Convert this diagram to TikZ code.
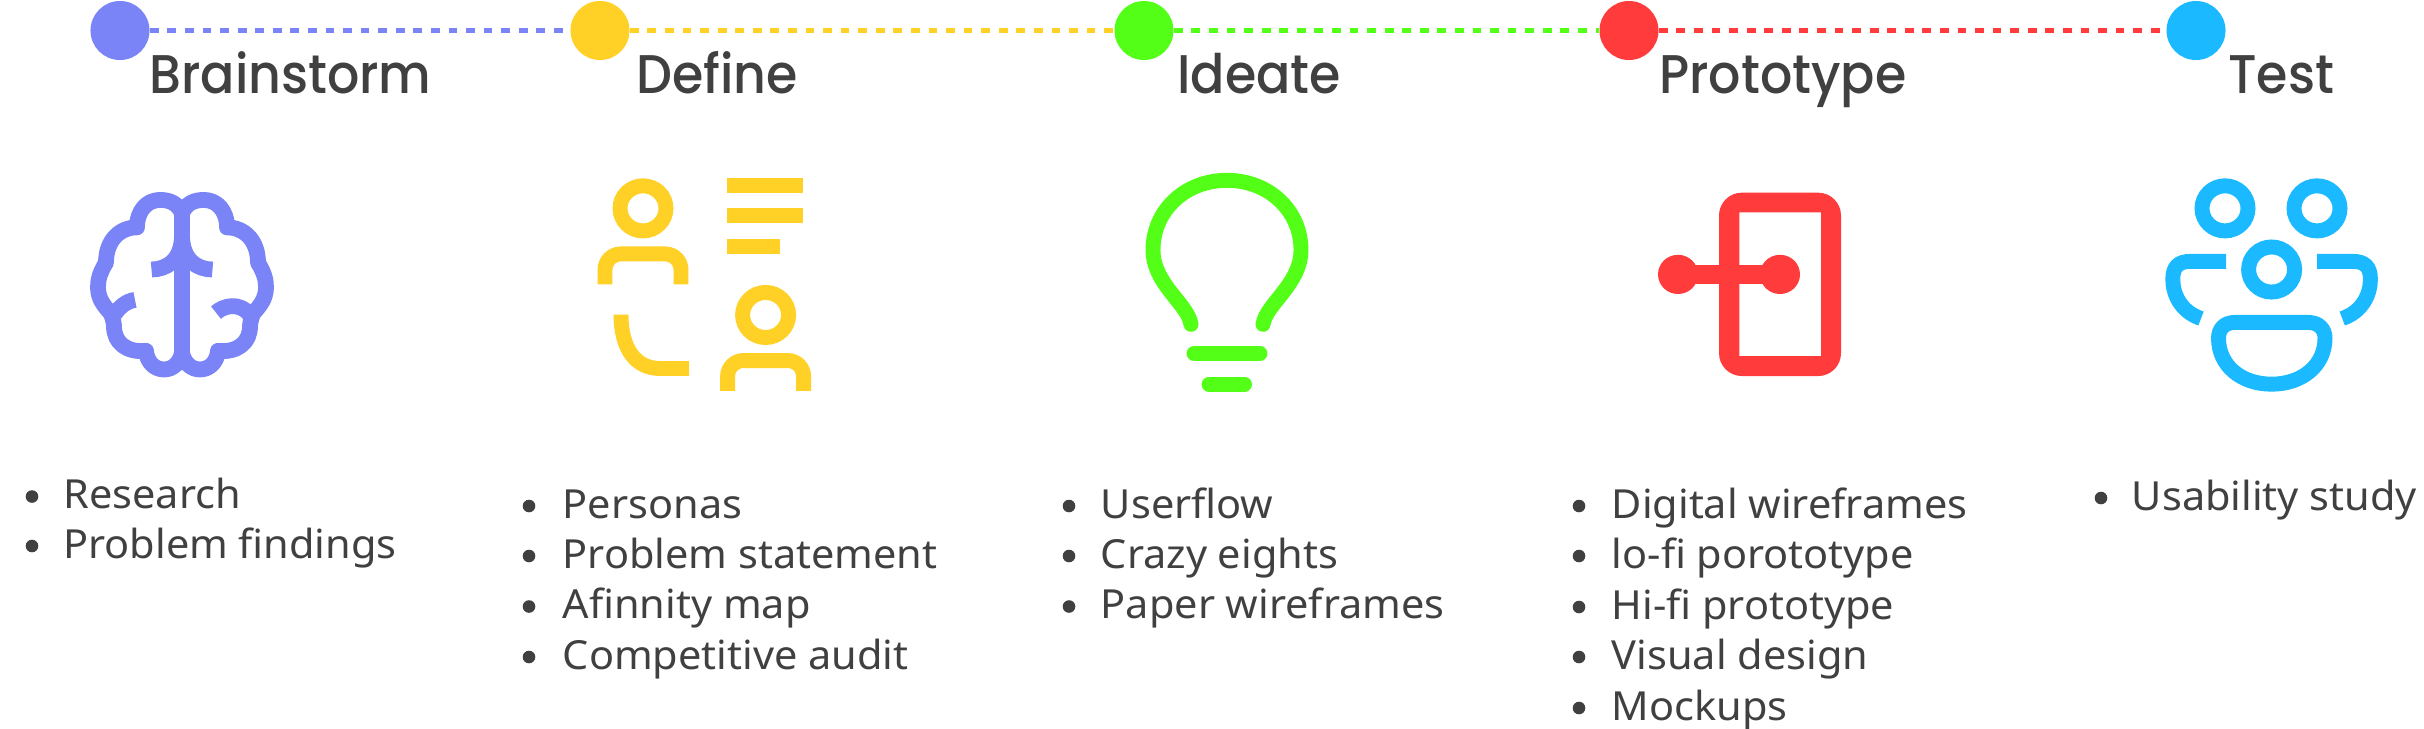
\documentclass[tikz,border=0pt]{standalone}
\usepackage{fontspec}
\newfontfamily\titlefam[FakeStretch=0.93]{Poppins Medium}
\newfontfamily\itemfam[FakeStretch=1.035]{Noto Sans}
\definecolor{brainblue}{HTML}{7A84F6}
\definecolor{defineyellow}{HTML}{FFD026}
\definecolor{ideagreen}{HTML}{54FF17}
\definecolor{protored}{HTML}{FF3B3C}
\definecolor{testcyan}{HTML}{1BB9FF}
\definecolor{inkgray}{HTML}{404040}
\tikzset{
  stepdot/.style={circle,inner sep=0pt,minimum size=33.6pt},
  linkline/.style={line width=2.85pt,dash pattern=on 5pt off 5pt},
  steptitle/.style={anchor=base west,inner sep=0pt,text=inkgray,font=\titlefam\fontsize{31pt}{36pt}\selectfont},
  itemtext/.style={anchor=base west,inner sep=0pt,text=inkgray,font=\itemfam\fontsize{22.8pt}{27pt}\selectfont},
  iconline/.style={line width=8.5pt},
}
\begin{document}
\begin{tikzpicture}[x=0.02cm,y=-0.02cm]
\useasboundingbox (0,0) rectangle (2424,728);

% Step dots
\node[stepdot,fill=brainblue] (brainstorm) at (120,30.5) {};
\node[stepdot,fill=defineyellow] (define) at (600,30.5) {};
\node[stepdot,fill=ideagreen] (ideate) at (1144,30.5) {};
\node[stepdot,fill=protored] (prototype) at (1629,30.5) {};
\node[stepdot,fill=testcyan] (test) at (2196,30.5) {};

% Dotted links
\foreach \a/\b/\c in {brainstorm/define/brainblue,define/ideate/defineyellow,ideate/prototype/ideagreen,prototype/test/protored} {
  \draw[linkline,\c] (\a) -- (\b);
}

% Titles
\node[steptitle] (brainstormtitle) at (149,93.5) {Brainstorm};
\node[steptitle] (definetitle) at (636,93.5) {Define};
\node[steptitle] (ideatetitle) at (1177,93.5) {Ideate};
\node[steptitle] (prototypetitle) at (1659,93.5) {Prototype};
\node[steptitle] (testtitle) at (2228,93.5) {Test};

\begin{scope}[yscale=0.98]
% Brain
\begin{scope}[iconline,line width=9pt,brainblue,line join=round]
\foreach \s in {1,-1} {
  \begin{scope}[shift={(182,0)},xscale=\s]
  \draw (0,218) .. controls (-4,207) and (-13,204) .. (-22,204) .. controls (-35,204) and (-45,215) .. (-45,232)
    .. controls (-62,232) and (-76,245) .. (-76,268) .. controls (-82,278) and (-84,285) .. (-84,293)
    .. controls (-84,305) and (-78,312) .. (-71,320) .. controls (-69,326) and (-68,330) .. (-68,333)
    .. controls (-68,350) and (-55,360) .. (-36,358) .. controls (-35,370) and (-27,377) .. (-18,377)
    .. controls (-9,377) and (-2,370) .. (0,360);
  \draw (-30.5,275) .. controls (-15,275) and (0,265) .. (0,240);
  \end{scope}
}
\draw (182,215) -- (182,372);
\draw (135,306) .. controls (127,307) and (119,313) .. (113,323);
\draw (216,319) .. controls (222,313) and (240,306) .. (251,323);
\end{scope}

% Define icon
\begin{scope}[iconline,defineyellow]
\foreach \hx/\hy in {643/212.6,765.6/321.4} {
  \draw (\hx,\hy) circle (23);
  \draw[rounded corners=9pt] (\hx-38,\hy+77.5) -- (\hx-38,\hy+46.5) -- (\hx+38,\hy+46.5) -- (\hx+38,\hy+77.5);
}
\draw (621,321) .. controls (621,355) and (635,376) .. (660,376) -- (689,376);
\foreach \ty/\tx in {189/803,220.3/803,251.5/780} {
  \draw (727,\ty) -- (\tx,\ty);
}
\end{scope}

% Bulb
\begin{scope}[iconline,ideagreen,line cap=round]
\draw (1191,331) .. controls (1188,310) and (1153,290) .. (1153,255) .. controls (1153,215) and (1185,184) .. (1227,184)
  .. controls (1269,184) and (1301,215) .. (1301,255) .. controls (1301,290) and (1266,310) .. (1263,331);
\draw (1194,360.7) -- (1260,360.7);
\draw (1209,392) -- (1244.5,392);
\end{scope}

% Prototype icon
\fill[protored,even odd rule,rounded corners=13pt] (1719,196.6) rectangle (1841,383.7) [sharp corners] (1739.3,216.7) rectangle (1821,363.3);
\fill[protored] (1678,280) circle (20);
\fill[protored] (1780,280) circle (20);
\fill[protored] (1678,270) rectangle (1780,290);

% Test icon
\begin{scope}[iconline,testcyan]
\draw (2225,212.6) circle (23);
\draw (2317,212.6) circle (23);
\draw (2271.6,275) circle (23);
\foreach \s in {1,-1} {
  \begin{scope}[shift={(2271.6,0)},xscale=\s]
  \draw (-45.6,266.7) -- (-81,266.7) .. controls (-93,266.7) and (-98.8,272) .. (-98.8,285) .. controls (-98.8,300) and (-91,318) .. (-70.6,325);
  \end{scope}
}
\draw (2235,329) -- (2308,329) .. controls (2319,329) and (2325,336) .. (2325,345) .. controls (2325,373) and (2302,392) .. (2271.6,392)
  .. controls (2241,392) and (2218.5,373) .. (2218.5,345) .. controls (2218.5,336) and (2224,329) .. (2235,329) -- cycle;
\end{scope}
\end{scope}

% Item lists
\foreach \y/\t [count=\n] in {508.5/Research,558/Problem findings} {
  \node[itemtext] (brainstormitem\n) at (63,\y) {\t};
  \fill[inkgray] (32,\y-12) circle (6.3);
}
\foreach \y/\t [count=\n] in {518/Personas,568/Problem statement,618.5/Afinnity map,669/Competitive audit} {
  \node[itemtext] (defineitem\n) at (562.5,\y) {\t};
  \fill[inkgray] (529,\y-12) circle (6.3);
}
\foreach \y/\t [count=\n] in {518/Userflow,568/Crazy eights,618.5/Paper wireframes} {
  \node[itemtext] (ideateitem\n) at (1100.5,\y) {\t};
  \fill[inkgray] (1069,\y-12) circle (6.3);
}
\foreach \y/\t [count=\n] in {518/Digital wireframes,568/lo-fi porototype,619/Hi-fi prototype,669/Visual design,720/Mockups} {
  \node[itemtext] (prototypeitem\n) at (1611.5,\y) {\t};
  \fill[inkgray] (1579,\y-12) circle (6.3);
}
\node[itemtext] (testitem1) at (2131.5,510) {Usability study};
\fill[inkgray] (2101,498) circle (6.3);
\end{tikzpicture}
\end{document}
